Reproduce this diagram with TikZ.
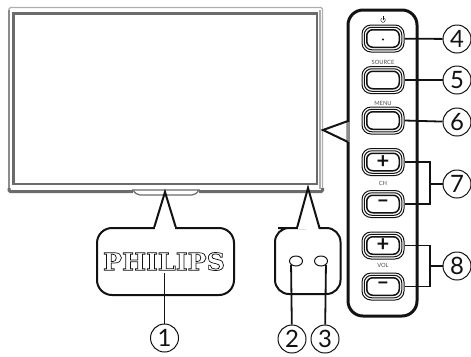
\documentclass[tikz,border=0pt]{standalone}
\usepackage{fontspec}
\setmainfont{Lato}
\newfontfamily\logofont{DejaVu Serif}[BoldFont={DejaVu Serif Bold}]
\definecolor{frameA}{gray}{0.42}
\definecolor{frameB}{gray}{0.55}
\definecolor{frameC}{gray}{0.68}
\definecolor{ink}{gray}{0.07}
\definecolor{smalltext}{gray}{0.3}
\usetikzlibrary{shapes.geometric}
\tikzset{
  x=1bp,y=-1bp,
  line/.style={draw=ink,line width=1.8bp},
  callout/.style={draw=ink,line width=2bp,line join=miter},
  num/.style={circle,draw=ink,line width=1bp,fill=white,minimum size=28bp,inner sep=0pt,font=\fontsize{24}{24}\selectfont,text=ink},
  btnO/.style={rectangle,rounded corners=9bp,draw=ink,line width=1bp,fill=white,minimum width=42bp,minimum height=27bp,inner sep=0pt},
  btnM/.style={rectangle,rounded corners=7.5bp,draw=ink,line width=1bp,minimum width=37.5bp,minimum height=22.5bp,inner sep=0pt},
  btnI/.style={rectangle,rounded corners=6bp,draw=ink,line width=1.5bp,minimum width=32.5bp,minimum height=17.5bp,inner sep=0pt,font=\fontsize{22}{22}\selectfont\bfseries,text=ink},
  captext/.style={font=\fontsize{5.8}{6}\selectfont,text=smalltext,inner sep=0pt},
  port/.style={ellipse,draw=ink,line width=1bp,minimum width=13bp,minimum height=10bp,inner sep=0pt},
}
\newcommand{\btn}[3]{%
  \node[btnO] (#1o) at (383,#2) {};
  \node[btnM] at (383,#2) {};
  \node[btnI] (#1) at (383,#2) {#3};
}
\begin{document}
\begin{tikzpicture}
\useasboundingbox (0,0) rectangle (471,356);
% TV frame
\draw[frameC,line width=1.2bp,rounded corners=1.5bp] (9,190) -- (9,7.5) -- (322.5,7.5) -- (322.5,191);
\draw[frameB,line width=2.2bp] (9,10) -- (9,190);
\draw[frameA,line width=2.2bp] (13.5,184) -- (13.5,13.5) -- (317,13.5) -- (317,184) -- cycle;
\draw[frameC,line width=1.2bp] (320,10) -- (320,189);
\draw[frameA,line width=3bp,rounded corners=1.5bp] (9,188) -- (9,191.7) -- (133,191.7);
\draw[frameA,line width=3bp,rounded corners=1.5bp] (199,191.7) -- (322.5,191.7) -- (322.5,188);
\draw[frameA,line width=1.2bp,fill=white] (133,190) .. controls (135,193) and (137,195) .. (140,195) -- (192,195) .. controls (195,195) and (197,193) .. (199,190) -- cycle;
% callouts
\draw[callout,fill=white] (165,192) -- (176,228) -- (190,228) [rounded corners=15bp] -- (234,228) -- (234,295) -- (97,295) -- (97,228) -- (140,228) [sharp corners] -- (154,228) -- cycle;
\draw[callout,fill=white] (308,188) -- (319.5,228) -- (324,228) [rounded corners=14bp] -- (340.5,228) -- (340.5,294) -- (275,294) -- (275,228) -- (292,228) [sharp corners] -- (297,228) -- cycle;
\draw[line width=2.2bp,white] (155.2,228) -- (174.8,228);
\draw[line width=2.2bp,white] (298.2,228) -- (318.3,228);
% logo
\node[inner sep=0pt,text=ink] (logo) at (164,261.5) {\scalebox{1.06}[1]{\special{pdf:code 1 Tr 0.7 w}\logofont\bfseries\fontsize{24}{24}\selectfont PHILIPS\special{pdf:code 0 Tr}}};
% ports
\node[port] (p2) at (296,261) {};
\node[port] (p3) at (321,261) {};
% panel
\draw[ink,line width=3bp,rounded corners=15bp,fill=white] (348,10) rectangle (417,316);
\draw[frameB,line width=3bp] (348,122) -- (348,142);
\draw[callout] (348,121) -- (323,130) -- (348,142);
% buttons
\btn{bfour}{38.5}{}
\btn{bfive}{80}{}
\btn{bsix}{120.5}{}
\btn{bsevp}{162}{+}
\btn{bsevm}{204}{\raisebox{1pt}{--}}
\btn{beigp}{245.5}{+}
\btn{beigm}{286.5}{\raisebox{1pt}{--}}
\fill[ink] (383,39.5) circle (1.2bp);
\draw[ink,line width=0.4bp] (381.6,18.3) arc[start angle=130,end angle=410,radius=2.3bp];
\draw[ink,line width=0.4bp] (383,16) -- (383,20);
\node[captext] (source) at (383,62) {SOURCE};
\node[captext] (menu) at (383,103) {MENU};
\node[captext] (ch) at (383,183.5) {CH};
\node[captext] (vol) at (383,265.5) {VOL};
% numbered circles
\node[num] (c1) at (164.5,338) {1};
\node[num] (c2) at (292,339) {2};
\node[num] (c3) at (325,339) {3};
\node[num] (c4) at (457,39) {4};
\node[num] (c5) at (457,80) {5};
\node[num] (c6) at (457,122) {6};
\node[num] (c7) at (457,184) {7};
\node[num] (c8) at (457,266) {8};
% connectors
\coordinate (one) at (164.5,273);
\draw[line] (one) -- (c1);
\draw[line] (p2.south west) -- (c2);
\draw[line] (p3.south east) -- (c3);
\draw[line] (bfouro) -- (c4);
\draw[line] (bfiveo) -- (c5);
\draw[line] (bsixo.east) -- (c6);
\coordinate (jseven) at (430,184);
\coordinate (jeight) at (430,266);
\draw[line] (bsevpo.east) -| (jseven) |- (bsevmo.east);
\draw[line] (jseven) -- (c7);
\draw[line] (beigpo.east) -| (jeight) |- (beigmo.east);
\draw[line] (jeight) -- (c8);
\end{tikzpicture}
\end{document}
